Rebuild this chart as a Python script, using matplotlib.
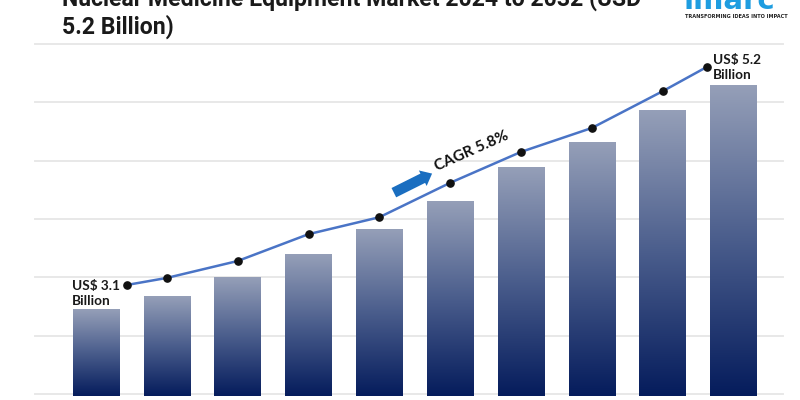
import numpy as np
import matplotlib
matplotlib.use("Agg")
import matplotlib.pyplot as plt
from matplotlib.colors import LinearSegmentedColormap

# ---- data (unlabelled value axis) ----
years = ["2024", "2025", "2026", "2027", "2028", "2029", "2030", "2031", "2032", "2033"]
bar_values = [1.49, 1.71, 2.04, 2.43, 2.85, 3.33, 3.91, 4.34, 4.90, 5.33]
line_values = [1.87, 1.99, 2.28, 2.74, 3.03, 3.62, 4.15, 4.56, 5.19, 5.61]
start_label = "US$ 3.1\nBillion"
end_label = "US$ 5.2\nBillion"
cagr_label = "CAGR 5.8%"
title = "Nuclear Medicine Equipment Market 2024 to 2032 (USD\n5.2 Billion)"

W, H = 800, 400
fig = plt.figure(figsize=(8, 4), dpi=100)
fig.patch.set_facecolor("white")

# axes spanning pixel x 35..783, y 44..400
ax = fig.add_axes([35 / W, 0, 748 / W, 1 - 44 / H])
XL = (-0.862, 9.70)
YL = (-0.103, 6.0)
ax.set_xlim(*XL)
ax.set_ylim(*YL)
ax.axis("off")

# gridlines
for g in range(0, 7):
    ax.axhline(g, color="#e8e8e8", lw=1.4, zorder=0, clip_on=False)

x = np.arange(len(years), dtype=float)
bars = ax.bar(x, bar_values, width=0.655, bottom=-0.04, facecolor="none", edgecolor="none", zorder=2)

cmap = LinearSegmentedColormap.from_list("barg", ["#051c5c", "#4a5d8c", "#959fb8"])
grad = np.linspace(0, 1, 256).reshape(-1, 1)
for p in bars.patches:
    x0, y0 = p.get_x(), p.get_y()
    ax.imshow(grad, extent=[x0, x0 + p.get_width(), y0, y0 + p.get_height()],
              origin="lower", cmap=cmap, aspect="auto", zorder=2, interpolation="bilinear")
ax.set_xlim(*XL)
ax.set_ylim(*YL)

# line: first and last points shifted off the bar centres as in the picture
line_x = x.copy()
line_x[0] += 0.44
line_x[-1] -= 0.37
ax.plot(line_x, line_values, color="#4a74c6", lw=1.8, zorder=3)
ax.plot(line_x, line_values, "o", color="#111111", ms=5.2, zorder=4)

lab_font = ["Lato", "DejaVu Sans"]
ax.text(x[0] - 0.34, line_values[0] - 0.15, start_label, ha="left", va="center",
        fontsize=9.8, fontweight="bold", family=lab_font, color="#1a1a1a",
        linespacing=1.3, zorder=5)
ax.text(line_x[-1] + 0.08, line_values[-1] - 0.02, end_label, ha="left", va="center",
        fontsize=9.8, fontweight="bold", family=lab_font, color="#1a1a1a",
        linespacing=1.3, zorder=5)

# CAGR arrow and text
ax.annotate("", xy=(4.78, 3.80), xytext=(4.17, 3.43),
            arrowprops=dict(arrowstyle="simple,head_length=0.75,head_width=1.25,tail_width=0.75",
                            color="#1a6ec0", lw=0), zorder=5)
ax.text(4.83, 3.78, cagr_label, rotation=24, rotation_mode="anchor", ha="left", va="bottom",
        fontsize=11, fontweight="bold", family=lab_font, color="#111111", zorder=5)

# title (top line partially cut off)
fig.text(62 / W, 1 - 34 / H, title, ha="left", va="baseline", fontsize=16.6,
         fontweight="bold", family=["Liberation Sans Narrow", "Roboto", "DejaVu Sans"],
         color="#1a1a1a", linespacing=1.22)

# logo
fig.text(684 / W, 1 - 9 / H, "imarc", ha="left", va="baseline", fontsize=21,
         fontweight="bold", family=["DejaVu Sans"], color="#1e9de0")
fig.text(685 / W, 1 - 17 / H, "TRANSFORMING IDEAS INTO IMPACT", ha="left", va="center",
         fontsize=3.6, fontweight="bold", family=["DejaVu Sans"], color="#222222")

fig.savefig("out.png", dpi=100, facecolor="white")
